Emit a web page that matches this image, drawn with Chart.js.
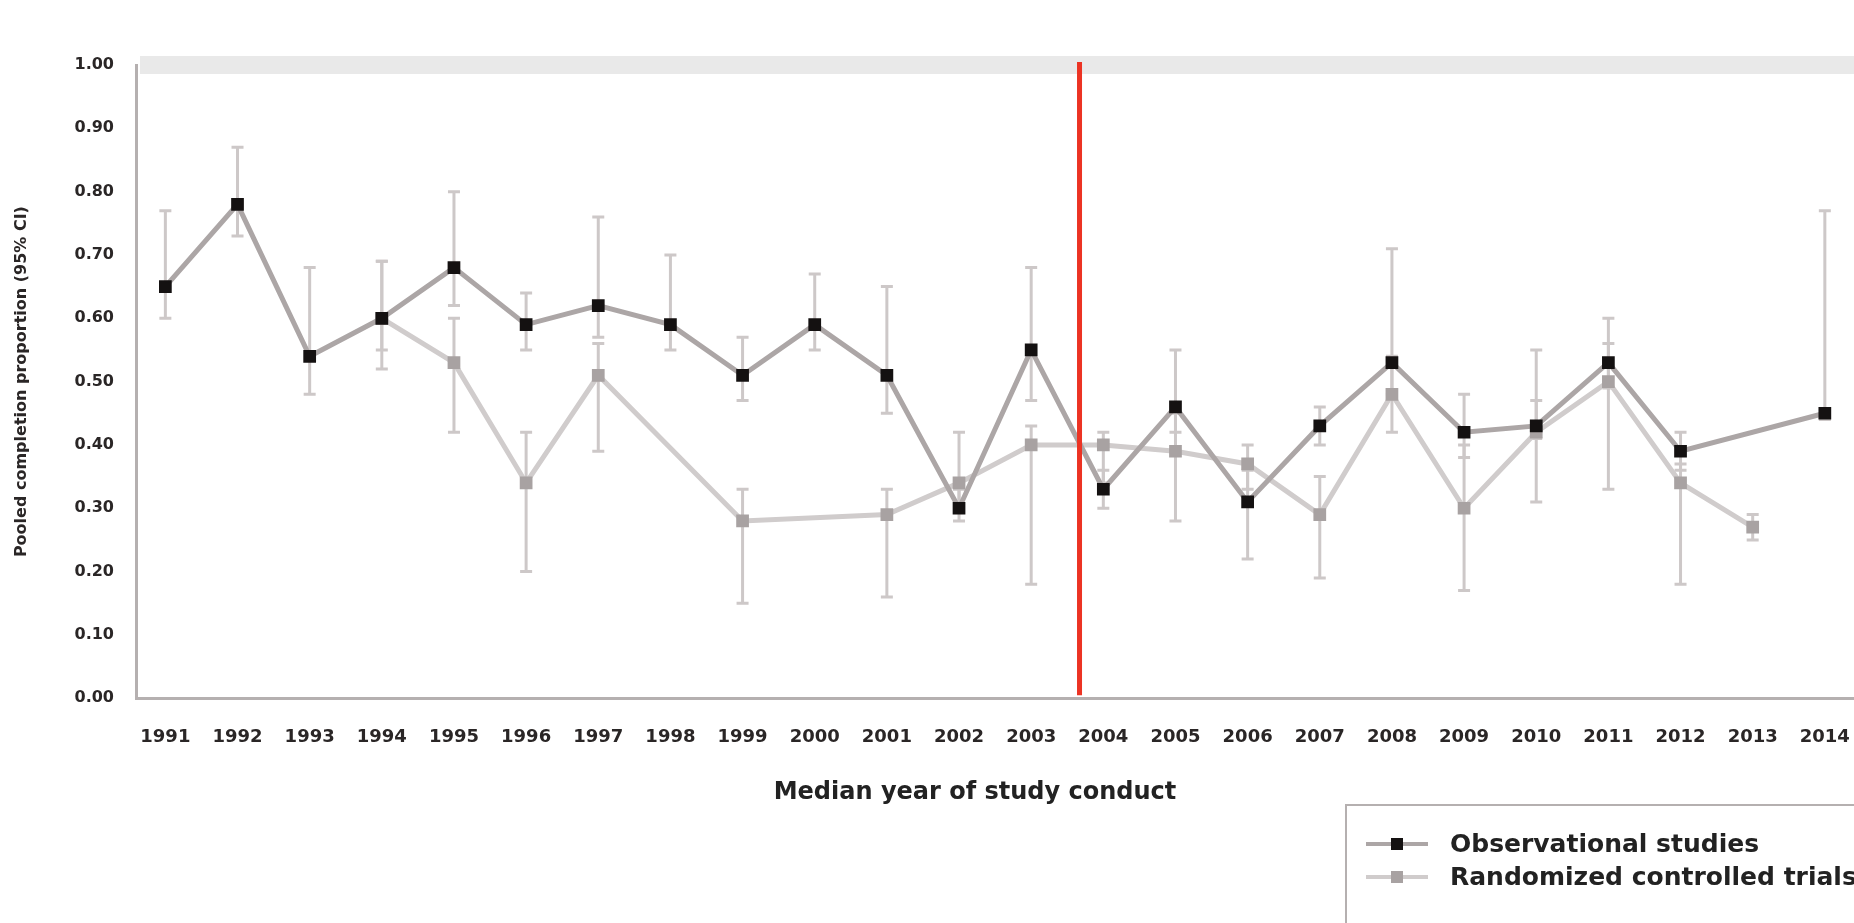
<!DOCTYPE html>
<html>
<head>
<meta charset="utf-8">
<script src="https://cdn.jsdelivr.net/npm/chart.js@4.4.1/dist/chart.umd.min.js"></script>
<style>
  html, body { margin: 0; padding: 0; background: #fff; overflow: hidden; }
  #wrap { width: 1854px; height: 923px; overflow: hidden; }
</style>
</head>
<body>
<div id="wrap"><canvas id="chart" width="1950" height="923"></canvas></div>
<script>
// --- data ---
const years = ['1991', '1992', '1993', '1994', '1995', '1996', '1997', '1998', '1999', '2000', '2001', '2002',
               '2003', '2004', '2005', '2006', '2007', '2008', '2009', '2010', '2011', '2012', '2013', '2014'];

const obsMean = [0.65, 0.78, 0.54, 0.60, 0.68, 0.59, 0.62, 0.59, 0.51, 0.59, 0.51, 0.30,
                 0.55, 0.33, 0.46, 0.31, 0.43, 0.53, 0.42, 0.43, 0.53, 0.39, null, 0.45];
const obsLow  = [0.60, 0.73, 0.48, 0.55, 0.62, 0.55, 0.57, 0.55, 0.47, 0.55, 0.45, 0.28,
                 0.47, 0.30, 0.42, 0.22, 0.40, 0.48, 0.38, 0.41, 0.49, 0.36, null, 0.44];
const obsHigh = [0.77, 0.87, 0.68, 0.69, 0.80, 0.64, 0.76, 0.70, 0.57, 0.67, 0.65, 0.33,
                 0.68, 0.36, 0.55, 0.36, 0.46, 0.71, 0.48, 0.55, 0.60, 0.42, null, 0.77];

const rctMean = [null, null, null, 0.60, 0.53, 0.34, 0.51, null, 0.28, null, 0.29, 0.34,
                 0.40, 0.40, 0.39, 0.37, 0.29, 0.48, 0.30, 0.42, 0.50, 0.34, 0.27, null];
const rctLow  = [null, null, null, 0.52, 0.42, 0.20, 0.39, null, 0.15, null, 0.16, 0.30,
                 0.18, 0.34, 0.28, 0.33, 0.19, 0.42, 0.17, 0.31, 0.33, 0.18, 0.25, null];
const rctHigh = [null, null, null, 0.69, 0.60, 0.42, 0.56, null, 0.33, null, 0.33, 0.42,
                 0.43, 0.42, 0.45, 0.40, 0.35, 0.54, 0.40, 0.47, 0.56, 0.37, 0.29, null];

const yTicks = [0, 0.1, 0.2, 0.3, 0.4, 0.5, 0.6, 0.7, 0.8, 0.9, 1.0];
const dividerYear = 2003.67;

const FONT = 'DejaVu Sans';

function toPoints(vals) {
  const pts = [];
  vals.forEach((v, i) => { if (v != null) pts.push({ x: Number(years[i]), y: v }); });
  return pts;
}

// top band, error bars, red divider and the boxed legend
const decorations = {
  id: 'decorations',
  beforeDatasetsDraw(chart) {
    const { ctx, chartArea, scales: { x, y } } = chart;
    ctx.save();
    // light band along the top of the plot
    ctx.fillStyle = '#e9e9e9';
    ctx.fillRect(chartArea.left + 4, y.getPixelForValue(1) - 9, chartArea.right - chartArea.left, 18);

    ctx.strokeStyle = '#cdc8c8';
    ctx.lineWidth = 3;
    chart.data.datasets.forEach(ds => {
      ds.low.forEach((lo, i) => {
        const hi = ds.high[i];
        if (lo == null || hi == null) return;
        const px = x.getPixelForValue(Number(years[i]));
        const p1 = y.getPixelForValue(lo);
        const p2 = y.getPixelForValue(hi);
        ctx.beginPath();
        ctx.moveTo(px, p1); ctx.lineTo(px, p2);
        ctx.moveTo(px - 6, p1); ctx.lineTo(px + 6, p1);
        ctx.moveTo(px - 6, p2); ctx.lineTo(px + 6, p2);
        ctx.stroke();
      });
    });
    ctx.restore();
  },
  afterDatasetsDraw(chart) {
    const { ctx, chartArea, scales: { x } } = chart;
    const rx = x.getPixelForValue(dividerYear);
    ctx.save();
    ctx.strokeStyle = '#ec3323';
    ctx.lineWidth = 5;
    ctx.beginPath();
    ctx.moveTo(rx, chartArea.top - 3);
    ctx.lineTo(rx, chartArea.bottom - 3);
    ctx.stroke();
    ctx.restore();
  },
  afterDraw(chart) {
    const { ctx } = chart;
    ctx.save();
    ctx.strokeStyle = '#b5b0b0';
    ctx.lineWidth = 2;
    ctx.strokeRect(1346, 805, 700, 200);
    const rowY = [844, 877];
    chart.data.datasets.forEach((ds, i) => {
      const yy = rowY[i];
      ctx.strokeStyle = ds.borderColor;
      ctx.lineWidth = 4;
      ctx.beginPath();
      ctx.moveTo(1366, yy); ctx.lineTo(1428, yy);
      ctx.stroke();
      ctx.fillStyle = ds.pointBackgroundColor;
      ctx.fillRect(1397 - 6, yy - 6, 12, 12);
      ctx.fillStyle = '#222';
      ctx.font = 'bold 25px ' + FONT;
      ctx.textBaseline = 'middle';
      ctx.fillText(ds.label, 1450, yy + 1);
    });
    ctx.restore();
  }
};

new Chart(document.getElementById('chart'), {
  type: 'line',
  data: {
    datasets: [
      {
        label: 'Observational studies',
        data: toPoints(obsMean),
        low: obsLow,
        high: obsHigh,
        borderColor: '#aca6a6',
        borderWidth: 5,
        pointStyle: 'rect',
        pointRadius: 9,
        pointBackgroundColor: '#141111',
        pointBorderWidth: 0,
        tension: 0
      },
      {
        label: 'Randomized controlled trials',
        data: toPoints(rctMean),
        low: rctLow,
        high: rctHigh,
        borderColor: '#d0cccc',
        borderWidth: 5,
        pointStyle: 'rect',
        pointRadius: 9,
        pointBackgroundColor: '#a8a2a2',
        pointBorderWidth: 0,
        tension: 0
      }
    ]
  },
  options: {
    responsive: false,
    animation: false,
    devicePixelRatio: 1,
    layout: { padding: { top: 65, right: 0, bottom: 0, left: 0 } },
    plugins: {
      legend: { display: false },
      tooltip: { enabled: false },
      title: {
        display: true,
        position: 'bottom',
        text: 'Median year of study conduct',
        color: '#222',
        font: { family: FONT, size: 24, weight: 'bold' },
        padding: { top: 0, bottom: 116 }
      }
    },
    scales: {
      x: {
        type: 'linear',
        min: 1990.593,
        max: 2015.61,
        afterFit: s => { s.height = 80; },
        afterBuildTicks: s => { s.ticks = years.map(v => ({ value: Number(v) })); },
        grid: { display: false, drawTicks: false },
        border: { display: true, color: '#b5b0b0', width: 3 },
        ticks: {
          autoSkip: false,
          maxRotation: 0,
          padding: 28,
          color: '#2a2626',
          font: { family: FONT, size: 18, weight: 'bold' },
          callback: v => String(v)
        }
      },
      y: {
        min: 0,
        max: 1,
        afterFit: s => { s.width = 136; },
        afterBuildTicks: s => { s.ticks = yTicks.map(v => ({ value: v })); },
        grid: { display: false, drawTicks: false },
        border: { display: true, color: '#b5b0b0', width: 3 },
        ticks: {
          padding: 22,
          color: '#2a2626',
          font: { family: FONT, size: 16, weight: 'bold' },
          callback: v => Number(v).toFixed(2)
        },
        title: {
          display: true,
          text: 'Pooled completion proportion (95% CI)',
          color: '#2a2626',
          font: { family: FONT, size: 16, weight: 'bold' },
          padding: { top: 12, bottom: 0 }
        }
      }
    }
  },
  plugins: [decorations]
});
</script>
</body>
</html>
